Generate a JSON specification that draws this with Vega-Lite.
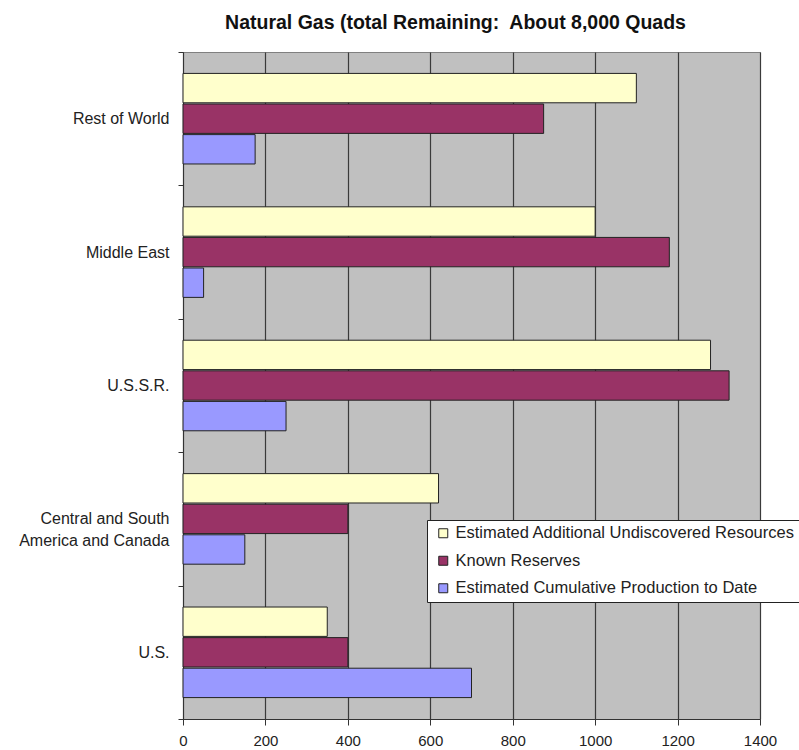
{
  "$schema": "https://vega.github.io/schema/vega-lite/v6.json",
  "autosize": {"type": "none"},
  "width": 577,
  "height": 667,
  "padding": {"left": 183, "top": 52, "right": 39, "bottom": 31},
  "background": "white",
  "title": {
    "text": "Natural Gas (total Remaining:\u00a0 About 8,000 Quads",
    "font": "Liberation Sans",
    "fontSize": 19.5,
    "fontWeight": "bold",
    "color": "#111111",
    "anchor": "middle",
    "dx": -16,
    "baseline": "alphabetic",
    "offset": -4
  },
  "config": {
    "view": {"fill": "#C0C0C0", "stroke": "#808080", "strokeWidth": 1},
    "font": "Liberation Sans"
  },
  "data": {
    "values": [
      {"region": "Rest of World", "series": "Estimated Additional Undiscovered Resources", "value": 1100},
      {"region": "Rest of World", "series": "Known Reserves", "value": 875},
      {"region": "Rest of World", "series": "Estimated Cumulative Production to Date", "value": 175},
      {"region": "Middle East", "series": "Estimated Additional Undiscovered Resources", "value": 1000},
      {"region": "Middle East", "series": "Known Reserves", "value": 1180},
      {"region": "Middle East", "series": "Estimated Cumulative Production to Date", "value": 50},
      {"region": "U.S.S.R.", "series": "Estimated Additional Undiscovered Resources", "value": 1280},
      {"region": "U.S.S.R.", "series": "Known Reserves", "value": 1325},
      {"region": "U.S.S.R.", "series": "Estimated Cumulative Production to Date", "value": 250},
      {"region": "Central and South America and Canada", "series": "Estimated Additional Undiscovered Resources", "value": 620},
      {"region": "Central and South America and Canada", "series": "Known Reserves", "value": 400},
      {"region": "Central and South America and Canada", "series": "Estimated Cumulative Production to Date", "value": 150},
      {"region": "U.S.", "series": "Estimated Additional Undiscovered Resources", "value": 350},
      {"region": "U.S.", "series": "Known Reserves", "value": 400},
      {"region": "U.S.", "series": "Estimated Cumulative Production to Date", "value": 700}
    ]
  },
  "mark": {"type": "bar", "stroke": "#222222", "strokeWidth": 1},
  "encoding": {
    "y": {
      "field": "region",
      "type": "nominal",
      "sort": ["Rest of World", "Middle East", "U.S.S.R.", "Central and South America and Canada", "U.S."],
      "scale": {"paddingInner": 0, "paddingOuter": 0},
      "axis": {
        "title": null,
        "tickBand": "extent",
        "tickSize": 5,
        "tickColor": "#333333",
        "domainColor": "#333333",
        "labelPadding": 9,
        "labelFontSize": 16,
        "labelColor": "#222222",
        "labelLimit": 300,
        "labelLineHeight": 22,
        "labelExpr": "datum.label == 'Central and South America and Canada' ? ['Central and South', 'America and Canada'] : datum.label",
        "grid": false
      }
    },
    "yOffset": {
      "field": "series",
      "type": "nominal",
      "sort": ["Estimated Additional Undiscovered Resources", "Known Reserves", "Estimated Cumulative Production to Date"],
      "scale": {"paddingInner": 0.04, "paddingOuter": 0.7}
    },
    "x": {
      "field": "value",
      "type": "quantitative",
      "scale": {"domain": [0, 1400], "nice": false},
      "axis": {
        "title": null,
        "values": [0, 200, 400, 600, 800, 1000, 1200, 1400],
        "format": "d",
        "grid": true,
        "gridColor": "#3a3a3a",
        "gridWidth": 1.2,
        "gridOpacity": 1,
        "tickSize": 6,
        "tickColor": "#333333",
        "domainColor": "#333333",
        "labelFontSize": 15,
        "labelColor": "#222222",
        "labelPadding": 8,
        "labelFlush": false
      }
    },
    "color": {
      "field": "series",
      "type": "nominal",
      "sort": ["Estimated Additional Undiscovered Resources", "Known Reserves", "Estimated Cumulative Production to Date"],
      "scale": {
        "domain": ["Estimated Additional Undiscovered Resources", "Known Reserves", "Estimated Cumulative Production to Date"],
        "range": ["#FFFFCC", "#993366", "#9999FF"]
      },
      "legend": {
        "title": null,
        "orient": "none",
        "legendX": 244,
        "legendY": 468,
        "fillColor": "white",
        "strokeColor": "#222222",
        "padding": 5,
        "symbolType": "square",
        "symbolSize": 81,
        "symbolStrokeColor": "#222222",
        "symbolStrokeWidth": 1,
        "symbolOffset": 3,
        "labelFontSize": 16.5,
        "labelColor": "#222222",
        "labelOffset": 4,
        "labelLimit": 500,
        "rowPadding": 10.5
      }
    }
  }
}
